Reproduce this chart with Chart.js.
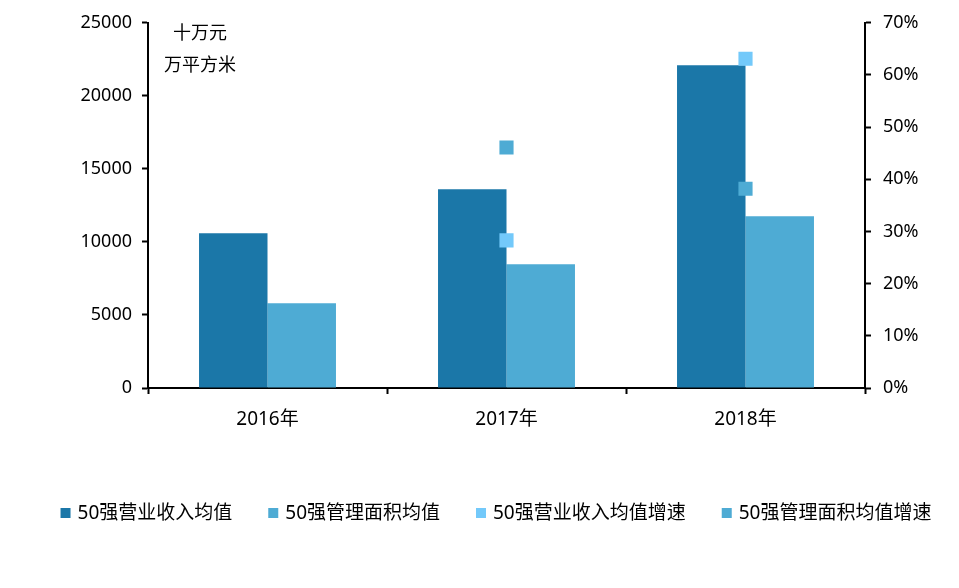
<!DOCTYPE html>
<html>
<head>
<meta charset="utf-8">
<script src="https://cdn.jsdelivr.net/npm/chart.js@4/dist/chart.umd.min.js"></script>
<style>
  html, body { margin: 0; padding: 0; background: #fff; }
  #wrap { width: 959px; height: 588px; }
</style>
</head>
<body>
<div id="wrap"><canvas id="chart" width="959" height="588"></canvas></div>
<script>
// 数据
const categories = ['2016年', '2017年', '2018年'];
const revenueAvg = [10600, 13600, 22100];      // 50强营业收入均值（十万元）
const areaAvg = [5800, 8470, 11750];           // 50强管理面积均值（万平方米）
const revenueGrowth = [null, 28.3, 63.1];      // 50强营业收入均值增速 %
const areaGrowth = [null, 46.1, 38.2];         // 50强管理面积均值增速 %
const leftTicks = [0, 5000, 10000, 15000, 20000, 25000];
const rightTicks = [0, 10, 20, 30, 40, 50, 60, 70];

const FONT = "'Noto Sans', 'Noto Sans CJK SC', sans-serif";

// 左上角单位文字
const unitLabels = {
    id: 'unitLabels',
    afterDraw(chart) {
        const c = chart.ctx;
        c.save();
        c.fillStyle = '#000';
        c.font = "18px 'Noto Sans CJK SC', sans-serif";
        c.textAlign = 'center';
        c.textBaseline = 'middle';
        c.fillText('十万元', 200, 32);
        c.fillText('万平方米', 200, 64);
        c.restore();
    }
};

// 底部图例（一行，居中）
const bottomLegend = {
    id: 'bottomLegend',
    afterDraw(chart) {
        const c = chart.ctx;
        const box = 10, gapText = 7, gapItem = 36;
        c.save();
        c.font = '19px ' + FONT;
        c.textBaseline = 'middle';
        c.textAlign = 'left';
        const items = chart.data.datasets.map(ds => ({
            label: ds.label,
            color: ds.backgroundColor,
            w: c.measureText(ds.label).width
        }));
        const total = items.reduce((s, it) => s + box + gapText + it.w, 0) + gapItem * (items.length - 1);
        let x = 496 - total / 2;
        const y = 514;
        items.forEach(it => {
            c.fillStyle = it.color;
            c.fillRect(x, y - 6, box, box);
            c.fillStyle = '#000';
            c.fillText(it.label, x + box + gapText, y);
            x += box + gapText + it.w + gapItem;
        });
        c.restore();
    }
};

const ctx = document.getElementById('chart').getContext('2d');
new Chart(ctx, {
    data: {
        labels: categories,
        datasets: [
            {
                type: 'bar',
                label: '50强营业收入均值',
                data: revenueAvg,
                backgroundColor: '#1B77A8',
                yAxisID: 'y',
                barPercentage: 1,
                categoryPercentage: 0.573,
                order: 2
            },
            {
                type: 'bar',
                label: '50强管理面积均值',
                data: areaAvg,
                backgroundColor: '#4EABD4',
                yAxisID: 'y',
                barPercentage: 1,
                categoryPercentage: 0.573,
                order: 2
            },
            {
                type: 'line',
                label: '50强营业收入均值增速',
                data: revenueGrowth,
                backgroundColor: '#73C9FA',
                borderColor: '#73C9FA',
                showLine: false,
                pointStyle: 'rect',
                pointRadius: 10,
                pointBorderWidth: 0,
                yAxisID: 'y1',
                order: 1
            },
            {
                type: 'line',
                label: '50强管理面积均值增速',
                data: areaGrowth,
                backgroundColor: '#4EABD4',
                borderColor: '#4EABD4',
                showLine: false,
                pointStyle: 'rect',
                pointRadius: 10,
                pointBorderWidth: 0,
                yAxisID: 'y1',
                order: 1
            }
        ]
    },
    options: {
        responsive: false,
        animation: false,
        layout: { padding: { top: 22, left: 0, right: 0, bottom: 0 } },
        plugins: {
            tooltip: { enabled: false },
            legend: { display: false }
        },
        scales: {
            x: {
                grid: {
                    offset: true,
                    drawOnChartArea: false,
                    tickLength: 6,
                    tickColor: '#000',
                    tickWidth: 2
                },
                border: { color: '#000', width: 2 },
                ticks: { color: '#000', padding: 14, font: { family: FONT, size: 19 } },
                afterFit(scale) { scale.height = 200; }
            },
            y: {
                position: 'left',
                min: 0,
                max: 25000,
                afterBuildTicks(scale) { scale.ticks = leftTicks.map(v => ({ value: v })); },
                grid: {
                    drawOnChartArea: false,
                    tickLength: 6,
                    tickColor: '#000',
                    tickWidth: 2
                },
                border: { color: '#000', width: 2 },
                ticks: {
                    color: '#000',
                    padding: 10,
                    font: { family: FONT, size: 18 },
                    callback: v => String(v)
                },
                afterFit(scale) { scale.width = 148; }
            },
            y1: {
                position: 'right',
                min: 0,
                max: 70,
                afterBuildTicks(scale) { scale.ticks = rightTicks.map(v => ({ value: v })); },
                grid: {
                    drawOnChartArea: false,
                    tickLength: 6,
                    tickColor: '#000',
                    tickWidth: 2
                },
                border: { color: '#000', width: 2 },
                ticks: {
                    color: '#000',
                    padding: 12,
                    font: { family: FONT, size: 18 },
                    callback: v => v + '%'
                },
                afterFit(scale) { scale.width = 94; }
            }
        }
    },
    plugins: [unitLabels, bottomLegend]
});
</script>
</body>
</html>
